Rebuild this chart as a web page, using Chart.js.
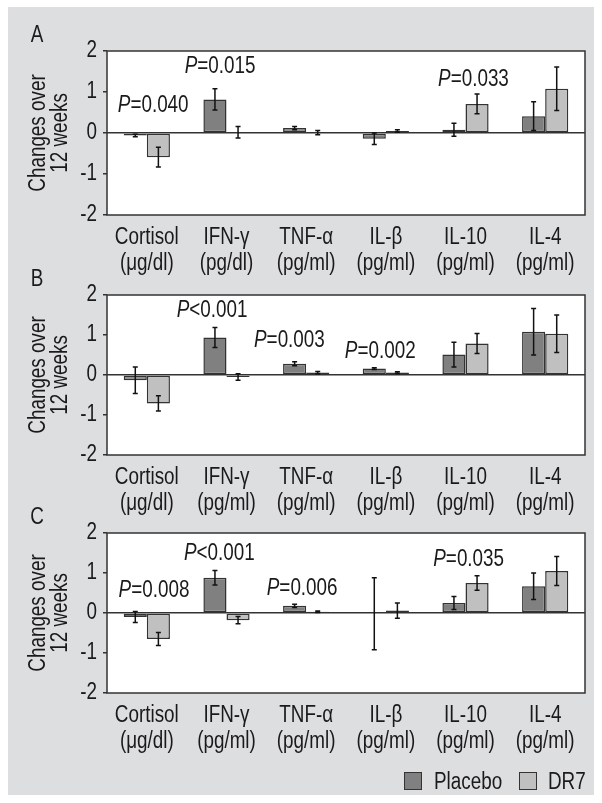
<!DOCTYPE html>
<html>
<head>
<meta charset="utf-8">
<script src="https://cdn.jsdelivr.net/npm/chart.js@4"></script>
<style>
  body { margin: 0; background: #ffffff; font-family: "Liberation Sans", Arial, sans-serif; }
  #page { position: relative; width: 602px; height: 803px; }
  #panelBg { position: absolute; left: 8px; top: 7px; width: 586px; height: 788px; background: #dddee0; }
  .panel { position: absolute; left: 0; width: 602px; height: 290px; }
  .legend { position: absolute; top: 772px; left: 404px; width: 190px; height: 20px; font-size: 23px; color: #1a1a1a; }
  .swatch { position: absolute; top: 0; width: 16px; height: 16px; border: 1.5px solid #333; }
  .ltext { position: absolute; top: -3px; line-height: 25px; transform: scaleX(0.82); transform-origin: left center; white-space: nowrap; }
</style>
</head>
<body>
<div id="page">
  <div id="panelBg"></div>
  <div class="panel" style="top:0px"><canvas id="chartA"></canvas></div>
  <div class="panel" style="top:244px"><canvas id="chartB"></canvas></div>
  <div class="panel" style="top:482px"><canvas id="chartC"></canvas></div>
  <div class="legend">
    <span class="swatch" style="left:0; background:#808080;"></span>
    <span class="ltext" style="left:30px;">Placebo</span>
    <span class="swatch" style="left:115px; background:#c0c0c0;"></span>
    <span class="ltext" style="left:144px;">DR7</span>
  </div>
</div>
<script>
/*******************************************************
 * DATA
 *******************************************************/
const LABELS_A = [["Cortisol", "(μg/dl)"], ["IFN-γ", "(pg/dl)"], ["TNF-α", "(pg/ml)"], ["IL-β", "(pg/ml)"], ["IL-10", "(pg/ml)"], ["IL-4", "(pg/ml)"]];
const LABELS_BC = [["Cortisol", "(μg/dl)"], ["IFN-γ", "(pg/ml)"], ["TNF-α", "(pg/ml)"], ["IL-β", "(pg/ml)"], ["IL-10", "(pg/ml)"], ["IL-4", "(pg/ml)"]];
const SERIES = ["Placebo", "DR7"];
const Y_TICKS = [2, 1, 0, -1, -2];

// panel A
const placeboA = [-0.06, 0.82, 0.12, -0.14, 0.08, 0.41];
const placeboErrA = [0.03, 0.26, 0.04, 0.14, 0.16, 0.35];
const dr7A = [-0.59, 0.02, 0.01, 0.05, 0.71, 1.08];
const dr7ErrA = [0.24, 0.14, 0.05, 0.03, 0.24, 0.53];
const pValuesA = [["=0.040", 0.08, 0.67], ["=0.015", 0.92, 1.62], ["=0.033", 4.10, 1.31]];

// panel B
const placeboB = [-0.13, 0.94, 0.28, 0.16, 0.51, 1.08];
const placeboErrB = [0.33, 0.25, 0.05, 0.02, 0.31, 0.58];
const dr7B = [-0.71, -0.05, 0.06, 0.06, 0.79, 1.03];
const dr7ErrB = [0.19, 0.08, 0.03, 0.02, 0.25, 0.47];
const pValuesB = [["<0.001", 0.82, 1.60], ["=0.003", 1.79, 0.86], ["=0.002", 2.93, 0.59]];

// panel C
const placeboC = [-0.10, 0.88, 0.18, -0.02, 0.25, 0.67];
const placeboErrC = [0.14, 0.18, 0.04, 0.90, 0.16, 0.33];
const dr7C = [-0.65, -0.18, 0.03, 0.06, 0.75, 1.05];
const dr7ErrC = [0.16, 0.09, 0.02, 0.19, 0.18, 0.36];
const pValuesC = [["=0.008", 0.09, 0.57], ["<0.001", 0.91, 1.49], ["=0.006", 1.95, 0.62], ["=0.035", 4.04, 1.34]];

/*******************************************************
 * STYLE
 *******************************************************/
const FONT = '"Liberation Sans", Arial, sans-serif';
const TEXT = "#1a1a1a";
const LINE = "#333333";
const NARROW = 0.82; // no narrow font installed, squeeze text by hand

// make every text on this context condensed (like Arial Narrow)
function condense(ctx, k) {
  const fill = ctx.fillText.bind(ctx);
  const measure = ctx.measureText.bind(ctx);
  ctx.fillText = function (text, x, y) {
    this.save();
    this.translate(x, y);
    this.scale(k, 1);
    fill(text, 0, 0);
    this.restore();
  };
  ctx.measureText = function (text) {
    const m = measure(text);
    return {
      width: m.width * k,
      actualBoundingBoxAscent: m.actualBoundingBoxAscent,
      actualBoundingBoxDescent: m.actualBoundingBoxDescent,
      actualBoundingBoxLeft: m.actualBoundingBoxLeft * k,
      actualBoundingBoxRight: m.actualBoundingBoxRight * k
    };
  };
}

// white plot box, frame, panel letter, P labels, error bars
const panelPlugin = {
  id: "panelPlugin",
  beforeDraw(chart) {
    const a = chart.chartArea, ctx = chart.ctx;
    ctx.save();
    ctx.fillStyle = "#ffffff";
    ctx.fillRect(a.left, a.top, a.right - a.left, a.bottom - a.top);
    ctx.restore();
  },
  afterDatasetsDraw(chart) {
    const ctx = chart.ctx, a = chart.chartArea;
    const yScale = chart.scales.y, xScale = chart.scales.x;
    const opts = chart.options.plugins.panelPlugin;

    // error bars
    ctx.save();
    ctx.strokeStyle = "#111";
    ctx.lineWidth = 1.5;
    chart.data.datasets.forEach((ds, di) => {
      const meta = chart.getDatasetMeta(di);
      meta.data.forEach((bar, i) => {
        const v = ds.data[i], e = ds.errors[i];
        const yTop = yScale.getPixelForValue(v + e);
        const yBot = yScale.getPixelForValue(v - e);
        ctx.beginPath();
        ctx.moveTo(bar.x, yTop); ctx.lineTo(bar.x, yBot);
        ctx.moveTo(bar.x - 2.5, yTop); ctx.lineTo(bar.x + 2.5, yTop);
        ctx.moveTo(bar.x - 2.5, yBot); ctx.lineTo(bar.x + 2.5, yBot);
        ctx.stroke();
      });
    });
    ctx.restore();

    // frame
    ctx.save();
    ctx.strokeStyle = LINE;
    ctx.lineWidth = 1.5;
    ctx.strokeRect(a.left, a.top, a.right - a.left, a.bottom - a.top);
    ctx.restore();

    // P values
    ctx.save();
    ctx.fillStyle = TEXT;
    ctx.textBaseline = "middle";
    ctx.textAlign = "left";
    opts.pValues.forEach(([rest, cx, cy]) => {
      const x = xScale.getPixelForValue(cx);
      const y = yScale.getPixelForValue(cy);
      ctx.font = "italic 23px " + FONT;
      const wP = ctx.measureText("P").width;
      ctx.font = "23px " + FONT;
      const wR = ctx.measureText(rest).width;
      const x0 = x - (wP + wR) / 2;
      ctx.font = "italic 23px " + FONT;
      ctx.fillText("P", x0, y);
      ctx.font = "23px " + FONT;
      ctx.fillText(rest, x0 + wP, y);
    });

    // panel letter
    ctx.font = "23px " + FONT;
    ctx.textAlign = "center";
    ctx.fillText(opts.letter, 37, a.top - 15);
    ctx.restore();
  }
};

function makePanel(canvasId, letter, labels, placebo, placeboErr, dr7, dr7Err, pValues, plotHeight) {
  const canvas = document.getElementById(canvasId);
  canvas.width = 602;
  canvas.height = 290;
  const ctx = canvas.getContext("2d");
  condense(ctx, NARROW);
  return new Chart(ctx, {
    type: "bar",
    data: {
      labels: labels,
      datasets: [
        {
          label: SERIES[0],
          data: placebo,
          errors: placeboErr,
          backgroundColor: "#808080",
          borderColor: LINE,
          borderWidth: 1.5,
          borderSkipped: false
        },
        {
          label: SERIES[1],
          data: dr7,
          errors: dr7Err,
          backgroundColor: "#c0c0c0",
          borderColor: LINE,
          borderWidth: 1.5,
          borderSkipped: false
        }
      ]
    },
    options: {
      responsive: false,
      animation: false,
      events: [],
      layout: {
        padding: { left: 0, right: 17, top: 51, bottom: 290 - 70 - 51 - plotHeight }
      },
      datasets: {
        bar: { categoryPercentage: 0.58, barPercentage: 1.0 }
      },
      scales: {
        x: {
          grid: { display: false, drawTicks: false },
          border: { display: false },
          ticks: {
            color: TEXT,
            padding: 10,
            maxRotation: 0,
            autoSkip: false,
            font: { family: FONT, size: 23, lineHeight: "26px" }
          },
          afterFit(scale) { scale.height = 70; }
        },
        y: {
          min: -2,
          max: 2,
          afterBuildTicks(scale) { scale.ticks = Y_TICKS.map(v => ({ value: v })); },
          grid: {
            color: c => (c.tick && c.tick.value === 0 ? LINE : "rgba(0,0,0,0)"),
            lineWidth: 1.5,
            drawTicks: true,
            tickLength: 4,
            tickColor: LINE
          },
          border: { display: false },
          ticks: {
            color: TEXT,
            padding: 6,
            font: { family: FONT, size: 23 }
          },
          title: {
            display: true,
            text: ["Changes over", "12 weeks"],
            color: TEXT,
            padding: { top: 28, bottom: 0 },
            font: { family: FONT, size: 23, lineHeight: "22px" }
          },
          afterFit(scale) { scale.width = 107; }
        }
      },
      plugins: {
        legend: { display: false },
        tooltip: { enabled: false },
        panelPlugin: { letter: letter, pValues: pValues }
      }
    },
    plugins: [panelPlugin]
  });
}

makePanel("chartA", "A", LABELS_A, placeboA, placeboErrA, dr7A, dr7ErrA, pValuesA, 164);
makePanel("chartB", "B", LABELS_BC, placeboB, placeboErrB, dr7B, dr7ErrB, pValuesB, 160);
makePanel("chartC", "C", LABELS_BC, placeboC, placeboErrC, dr7C, dr7ErrC, pValuesC, 160);
</script>
</body>
</html>
